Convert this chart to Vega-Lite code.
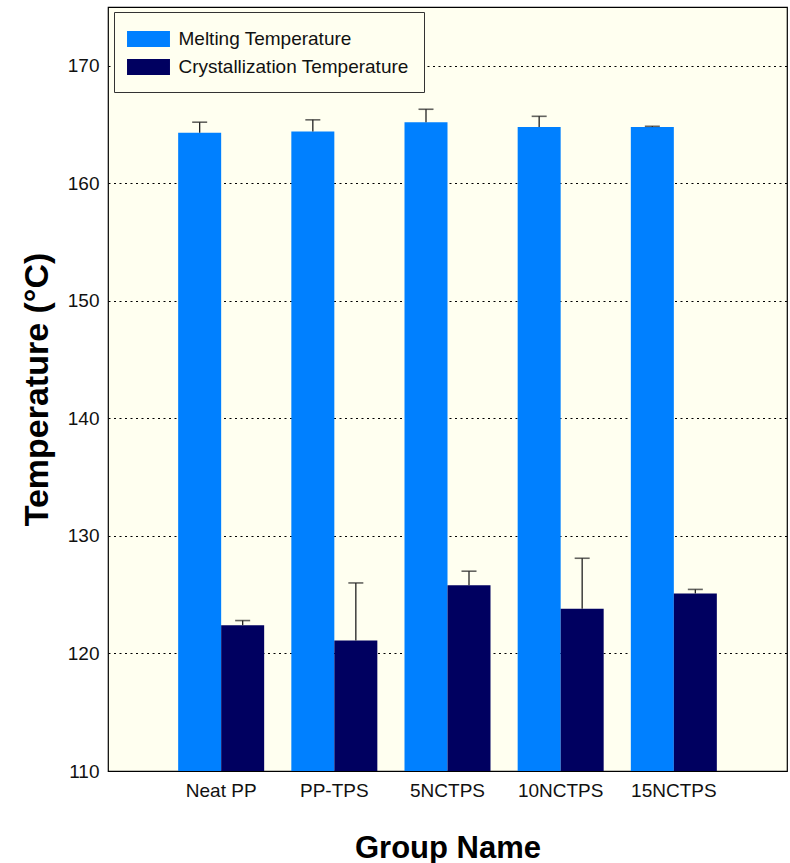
{
  "$schema": "https://vega.github.io/schema/vega-lite/v6.json",
  "width": 679,
  "height": 764,
  "autosize": {"type": "none"},
  "padding": {"left": 108, "top": 7, "right": 3, "bottom": 92},
  "background": "white",
  "config": {
    "view": {"fill": "#FFFFF0", "stroke": "#000000", "strokeWidth": 1.2},
    "font": "Liberation Sans"
  },
  "data": {
    "values": [
      {"group": "Neat PP", "series": "Melting Temperature", "value": 164.3, "hi": 165.2},
      {"group": "Neat PP", "series": "Crystallization Temperature", "value": 122.4, "hi": 122.8},
      {"group": "PP-TPS", "series": "Melting Temperature", "value": 164.4, "hi": 165.4},
      {"group": "PP-TPS", "series": "Crystallization Temperature", "value": 121.1, "hi": 126.0},
      {"group": "5NCTPS", "series": "Melting Temperature", "value": 165.2, "hi": 166.3},
      {"group": "5NCTPS", "series": "Crystallization Temperature", "value": 125.8, "hi": 127.0},
      {"group": "10NCTPS", "series": "Melting Temperature", "value": 164.8, "hi": 165.7},
      {"group": "10NCTPS", "series": "Crystallization Temperature", "value": 123.8, "hi": 128.1},
      {"group": "15NCTPS", "series": "Melting Temperature", "value": 164.8, "hi": 164.85},
      {"group": "15NCTPS", "series": "Crystallization Temperature", "value": 125.1, "hi": 125.45}
    ]
  },
  "encoding": {
    "x": {
      "field": "group",
      "type": "nominal",
      "sort": ["Neat PP", "PP-TPS", "5NCTPS", "10NCTPS", "15NCTPS"],
      "scale": {"paddingInner": 0.24, "paddingOuter": 0.62},
      "axis": {
        "title": "Group Name",
        "labelAngle": 0,
        "labelFontSize": 19,
        "labelColor": "#111111",
        "labelPadding": 10,
        "domain": false,
        "ticks": false,
        "titleFontSize": 31,
        "titleFontWeight": "bold",
        "titleColor": "#000000",
        "titleY": 86,
        "titleBaseline": "alphabetic"
      }
    },
    "xOffset": {
      "field": "series",
      "type": "nominal",
      "sort": ["Melting Temperature", "Crystallization Temperature"],
      "scale": {"paddingInner": 0, "paddingOuter": 0}
    }
  },
  "layer": [
    {
      "mark": {"type": "bar", "clip": true},
      "encoding": {
        "y": {
          "field": "value",
          "type": "quantitative",
          "scale": {"domain": [110, 175], "nice": false, "zero": false},
          "axis": {
            "title": "Temperature (°C)",
            "values": [110, 120, 130, 140, 150, 160, 170],
            "grid": true,
            "gridColor": "#000000",
            "gridDash": [2, 3.5],
            "gridWidth": 1,
            "domain": false,
            "ticks": false,
            "labelPadding": 9,
            "labelFontSize": 19,
            "labelColor": "#111111",
            "titleFontSize": 34,
            "titleFontWeight": "bold",
            "titleColor": "#000000",
            "titleX": -61,
            "titleY": 382,
            "titleAngle": -90,
            "titleAlign": "center",
            "titleBaseline": "alphabetic"
          }
        },
        "color": {
          "field": "series",
          "type": "nominal",
          "scale": {
            "domain": ["Melting Temperature", "Crystallization Temperature"],
            "range": ["#0080FF", "#000060"]
          },
          "legend": {
            "title": null,
            "orient": "none",
            "legendX": 6,
            "legendY": 5,
            "padding": 15,
            "rowPadding": 6,
            "fillColor": "#FFFFF0",
            "strokeColor": "#333333",
            "cornerRadius": 0,
            "symbolType": "M-1.79,-0.667H1.79V0.667H-1.79Z",
            "symbolSize": 576,
            "symbolStrokeWidth": 0,
            "symbolOffset": 7.5,
            "labelOffset": 18,
            "labelFontSize": 19,
            "labelColor": "#111111",
            "labelLimit": 400
          }
        }
      }
    },
    {
      "mark": {"type": "rule", "color": "#222222", "strokeWidth": 1.3},
      "encoding": {
        "y": {"field": "value", "type": "quantitative"},
        "y2": {"field": "hi"}
      }
    },
    {
      "mark": {"type": "tick", "color": "#222222", "thickness": 1.6, "size": 15},
      "encoding": {
        "y": {"field": "hi", "type": "quantitative"}
      }
    }
  ]
}
